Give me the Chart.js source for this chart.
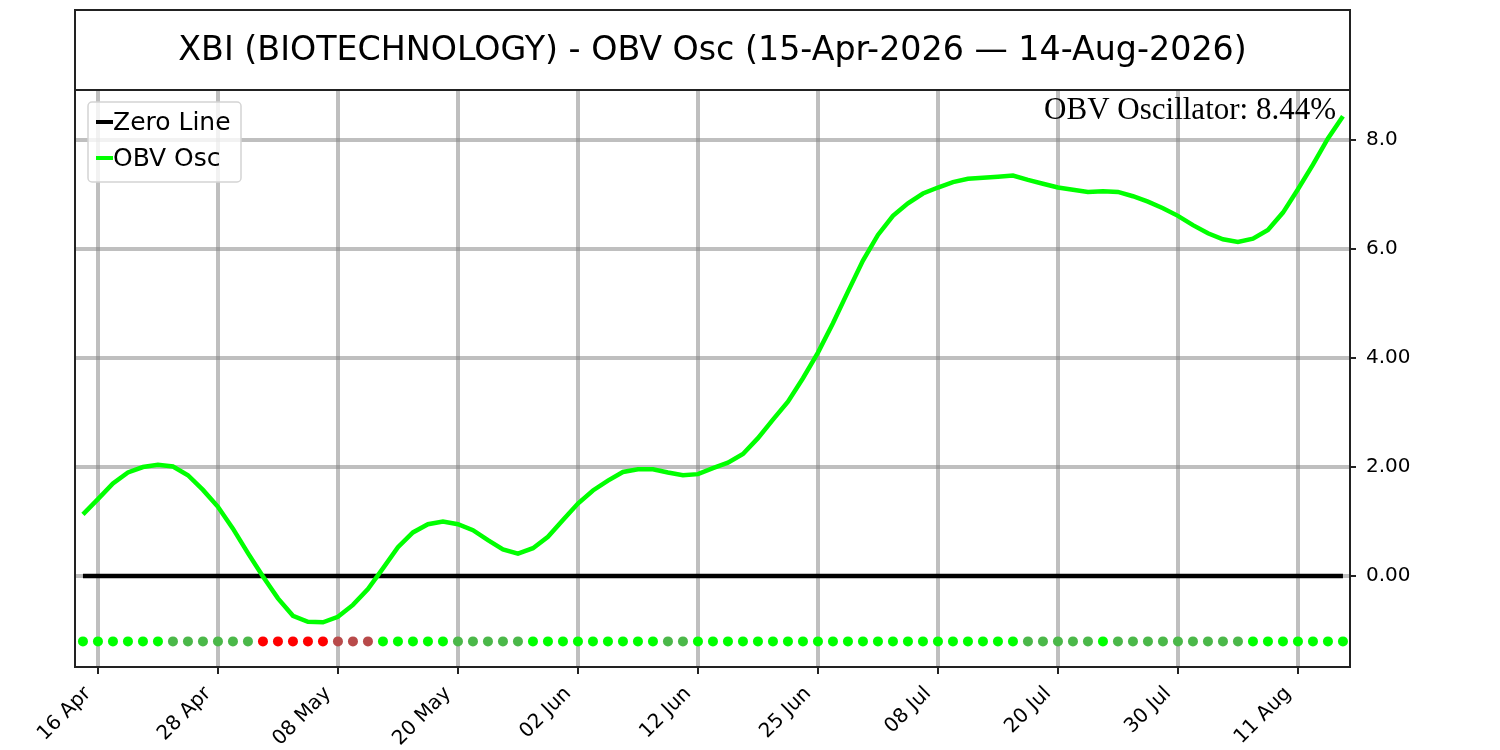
<!DOCTYPE html>
<html><head><meta charset="utf-8">
<script src="https://cdn.jsdelivr.net/npm/chart.js@4/dist/chart.umd.min.js"></script>
<style>html,body{margin:0;padding:0;background:#fff;}#wrap{width:1500px;height:750px;}</style>
</head><body><div id="wrap"><canvas id="c" width="1500" height="750"></canvas></div>
<script>
const titleText = 'XBI (BIOTECHNOLOGY) - OBV Osc (15-Apr-2026 \u2014 14-Aug-2026)';
const annotationText = 'OBV Oscillator: 8.44%';
const seriesNames = ['Zero Line', 'OBV Osc'];

const dates = ['15 Apr','16 Apr','17 Apr','20 Apr','21 Apr','22 Apr','23 Apr','24 Apr','27 Apr','28 Apr',
'29 Apr','30 Apr','01 May','04 May','05 May','06 May','07 May','08 May','11 May','12 May',
'13 May','14 May','15 May','18 May','19 May','20 May','21 May','22 May','26 May','27 May',
'28 May','29 May','01 Jun','02 Jun','03 Jun','04 Jun','05 Jun','08 Jun','09 Jun','10 Jun',
'11 Jun','12 Jun','15 Jun','16 Jun','17 Jun','18 Jun','22 Jun','23 Jun','24 Jun','25 Jun',
'26 Jun','29 Jun','30 Jun','01 Jul','02 Jul','06 Jul','07 Jul','08 Jul','09 Jul','10 Jul',
'13 Jul','14 Jul','15 Jul','16 Jul','17 Jul','20 Jul','21 Jul','22 Jul','23 Jul','24 Jul',
'27 Jul','28 Jul','29 Jul','30 Jul','31 Jul','03 Aug','04 Aug','05 Aug','06 Aug','07 Aug',
'10 Aug','11 Aug','12 Aug','13 Aug','14 Aug'];

const obvOsc = [1.13,1.41,1.70,1.90,2.00,2.04,2.01,1.85,1.58,1.27,
0.87,0.42,-0.01,-0.41,-0.73,-0.84,-0.85,-0.75,-0.53,-0.24,
0.14,0.53,0.80,0.95,1.00,0.95,0.84,0.66,0.49,0.41,
0.51,0.72,1.03,1.33,1.57,1.75,1.91,1.96,1.96,1.90,
1.85,1.87,1.98,2.08,2.24,2.53,2.87,3.20,3.63,4.10,
4.64,5.22,5.79,6.26,6.61,6.84,7.02,7.13,7.23,7.29,
7.31,7.33,7.35,7.27,7.20,7.13,7.09,7.05,7.06,7.05,
6.97,6.87,6.75,6.61,6.44,6.29,6.18,6.13,6.19,6.35,
6.67,7.10,7.55,8.03,8.44];

// G = rising above zero, g = falling above zero, R = falling below zero, r = rising below zero
const signals = ['G','G','G','G','G','G','g','g','g','g',
'g','g','R','R','R','R','R','r','r','r',
'G','G','G','G','G','g','g','g','g','g',
'G','G','G','G','G','G','G','G','G','g',
'g','G','G','G','G','G','G','G','G','G',
'G','G','G','G','G','G','G','G','G','G',
'G','G','G','g','g','g','g','g','G','g',
'g','g','g','g','g','g','g','g','G','G',
'G','G','G','G','G'];

const xTickIndex = [1,9,17,25,33,41,49,57,65,73,81];
const yTickValues = [0,2,4,6,8];
const yTickLabels = ['0.00','2.00','4.00','6.0','8.0'];
const zeroLevel = 0;
const dotLevel = -1.2;

const signalColors = {G:'#00ff00', g:'#4bb849', R:'#ff0000', r:'#b84a4a'};

const decor = {
  id: 'decor',
  beforeDraw(chart) {
    const ctx = chart.ctx;
    ctx.save();
    ctx.fillStyle = '#fff';
    ctx.fillRect(0, 0, chart.width, chart.height);
    ctx.restore();
  },
  afterDraw(chart) {
    const ctx = chart.ctx;
    const a = chart.chartArea;
    ctx.save();
    // frame
    ctx.strokeStyle = '#222';
    ctx.lineWidth = 2;
    ctx.strokeRect(a.left, a.top, a.right - a.left, a.bottom - a.top);
    // title box
    ctx.strokeRect(a.left, 10, a.right - a.left, a.top - 10);
    ctx.fillStyle = '#000';
    ctx.font = '33.3px "DejaVu Sans"';
    ctx.textAlign = 'center';
    ctx.textBaseline = 'middle';
    ctx.fillText(titleText, (a.left + a.right) / 2, (10 + a.top) / 2 + 1);
    // annotation
    ctx.font = '31px "Liberation Serif"';
    ctx.textAlign = 'right';
    ctx.textBaseline = 'alphabetic';
    ctx.fillText(annotationText, a.right - 14, a.top + 29);
    // legend
    const lx = a.left + 13, ly = a.top + 12, lw = 153, lh = 80;
    ctx.beginPath();
    if (ctx.roundRect) ctx.roundRect(lx, ly, lw, lh, 4); else ctx.rect(lx, ly, lw, lh);
    ctx.fillStyle = 'rgba(255,255,255,0.8)';
    ctx.fill();
    ctx.strokeStyle = '#d4d4d4';
    ctx.lineWidth = 1.5;
    ctx.stroke();
    const cols = ['#000000', '#00ff00'];
    ctx.font = '25px "DejaVu Sans"';
    ctx.textAlign = 'left';
    ctx.textBaseline = 'middle';
    seriesNames.forEach((n, i) => {
      const y = ly + 20 + i * 36;
      ctx.strokeStyle = cols[i];
      ctx.lineWidth = 4;
      ctx.beginPath();
      ctx.moveTo(lx + 8, y);
      ctx.lineTo(lx + 25, y);
      ctx.stroke();
      ctx.fillStyle = '#000';
      ctx.fillText(n, lx + 25, y + 1);
    });
    ctx.restore();
  }
};

const gridCol = 'rgba(128,128,128,0.5)';

new Chart(document.getElementById('c'), {
  type: 'line',
  data: {
    datasets: [
      {
        label: 'signals',
        data: dates.map((d, i) => ({x: i, y: dotLevel})),
        showLine: false,
        pointRadius: 5,
        pointBorderWidth: 0,
        pointBackgroundColor: signals.map(s => signalColors[s]),
        order: 0
      },
      {
        label: seriesNames[1],
        data: obvOsc.map((v, i) => ({x: i, y: v})),
        borderColor: '#00ff00',
        borderWidth: 4.5,
        pointRadius: 0,
        tension: 0,
        order: 1
      },
      {
        label: seriesNames[0],
        data: dates.map((d, i) => ({x: i, y: zeroLevel})),
        borderColor: '#000000',
        borderWidth: 4.5,
        pointRadius: 0,
        order: 2
      }
    ]
  },
  options: {
    responsive: false,
    animation: false,
    devicePixelRatio: 1,
    layout: {padding: {left: 75, top: 90, right: 0, bottom: 0}},
    plugins: {legend: {display: false}, tooltip: {enabled: false}},
    scales: {
      x: {
        type: 'linear',
        min: -0.53,
        max: 84.47,
        position: 'bottom',
        afterBuildTicks: s => { s.ticks = xTickIndex.map(v => ({value: v})); },
        afterFit: s => { s.height = 83; },
        border: {display: false},
        grid: {color: gridCol, lineWidth: 4, tickColor: '#222', tickWidth: 2, tickLength: 7},
        ticks: {
          autoSkip: false, maxRotation: 45, minRotation: 45, padding: 8, labelOffset: -10,
          color: '#000', font: {family: 'DejaVu Sans', size: 20},
          callback: v => dates[v]
        }
      },
      y: {
        type: 'linear',
        position: 'right',
        min: -1.67,
        max: 8.92,
        afterBuildTicks: s => { s.ticks = yTickValues.map(v => ({value: v})); },
        afterFit: s => { s.width = 150; },
        border: {display: false},
        grid: {color: gridCol, lineWidth: 4, tickColor: '#222', tickWidth: 2, tickLength: 6},
        ticks: {
          padding: 10, color: '#000', font: {family: 'DejaVu Sans', size: 20},
          callback: v => yTickLabels[yTickValues.indexOf(v)]
        }
      }
    }
  },
  plugins: [decor]
});
</script></body></html>
